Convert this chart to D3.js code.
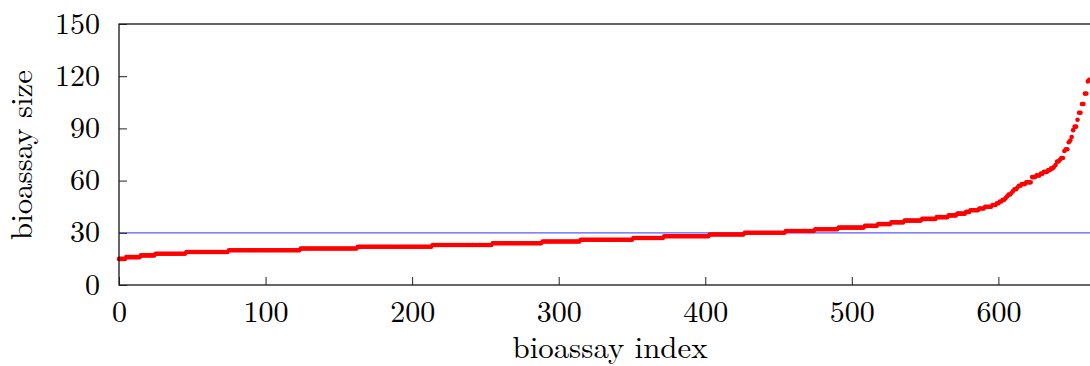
<!DOCTYPE html>
<html>
<head>
<meta charset="utf-8">
<script src="https://cdn.jsdelivr.net/npm/d3@7"></script>
<style>
  html, body { margin: 0; padding: 0; background: #fff; }
  svg { display: block; }
  text { font-family: "Latin Modern Roman", "CMU Serif", "Liberation Serif", "DejaVu Serif", serif; fill: #000; }
</style>
</head>
<body>
<svg id="chart" width="1090" height="366"></svg>
<script>
// ---- data ----
// sorted bioassay sizes: flat part as runs (value, number of bioassays)
const runValues  = [15, 16, 17, 18, 19, 20, 21, 22, 23, 24, 25, 26, 27, 28, 29, 30, 31, 32, 33, 34, 35, 36, 37, 38, 39, 40, 41, 42, 43, 44];
const runLengths = [ 5, 10, 10, 21, 29, 49, 39, 51, 41, 34, 26, 36, 21, 31, 24, 28, 20, 16, 18,  9,  9,  9, 12, 10,  8,  6,  6,  3,  6,  4];
// steep tail: one value per bioassay
const tailValues = [45, 45, 45, 45, 45, 46, 46, 46, 47, 47, 48, 48, 49, 49, 50, 51, 52, 52, 53, 54,
                    55, 55, 56, 57, 57, 58, 58, 58, 59, 59, 59, 59, 62, 62, 62, 63, 63, 63, 64, 64,
                    65, 65, 65, 66, 66, 67, 67, 68, 69, 71, 71, 72, 73, 73, 77, 78, 78, 82, 83, 85,
                    89, 91, 91, 95, 99, 99, 104, 104, 110, 110, 117, 118];
const threshold = [30];
const xTicks = [0, 100, 200, 300, 400, 500, 600];
const yTicks = [0, 30, 60, 90, 120, 150];
const xLabel = "bioassay index";
const yLabel = "bioassay size";

(function () {
  // ---- build points ----
  const sizes = [];
  runValues.forEach((v, k) => { for (let j = 0; j < runLengths[k]; j++) sizes.push(v); });
  tailValues.forEach(v => sizes.push(v));
  const points = sizes.map((v, i) => ({ i, v }));

  // ---- layout ----
  const svg = d3.select("#chart");
  const pL = 119, pR = 1101, pT = 24, pB = 285;
  const x = d3.scaleLinear().domain([0, 670]).range([pL, pR]);
  const y = d3.scaleLinear().domain([0, 150]).range([pB, pT]);

  // threshold line
  svg.selectAll("line.thr").data(threshold).enter().append("line")
    .attr("class", "thr")
    .attr("x1", x(0)).attr("x2", x(670))
    .attr("y1", d => y(d)).attr("y2", d => y(d))
    .attr("stroke", "#5a5aff").attr("stroke-width", 1.3);

  // points
  svg.append("g").selectAll("circle").data(points).enter().append("circle")
    .attr("cx", d => x(d.i))
    .attr("cy", d => y(d.v))
    .attr("r", 2.3)
    .attr("fill", "#ff0000");

  // frame
  svg.append("rect")
    .attr("x", pL).attr("y", pT)
    .attr("width", pR - pL).attr("height", pB - pT)
    .attr("fill", "none").attr("stroke", "#000").attr("stroke-width", 1.2);

  // axes
  const gx = svg.append("g").attr("transform", `translate(0,${pB})`)
    .call(d3.axisBottom(x).tickValues(xTicks).tickSize(-8).tickPadding(0).tickFormat(d3.format("d")));
  gx.select(".domain").remove();
  gx.selectAll(".tick line").attr("stroke", "#222").attr("stroke-width", 1);
  gx.selectAll(".tick text").attr("y", 37).attr("dy", null)
    .style("font-size", "30px");

  const gy = svg.append("g").attr("transform", `translate(${pL},0)`)
    .call(d3.axisLeft(y).tickValues(yTicks).tickSize(-8).tickPadding(19).tickFormat(d3.format("d")));
  gy.select(".domain").remove();
  gy.selectAll(".tick line").attr("stroke", "#222").attr("stroke-width", 1);
  gy.selectAll(".tick text").attr("dy", null).attr("y", 9)
    .style("font-size", "30px");

  // axis labels
  svg.append("text")
    .attr("x", 610).attr("y", 358)
    .attr("text-anchor", "middle")
    .attr("textLength", 195).attr("lengthAdjust", "spacingAndGlyphs")
    .style("font-size", "30px")
    .text(xLabel);

  svg.append("text")
    .attr("transform", "translate(32,155) rotate(-90)")
    .attr("text-anchor", "middle")
    .attr("textLength", 170).attr("lengthAdjust", "spacingAndGlyphs")
    .style("font-size", "30px")
    .text(yLabel);
})();
</script>
</body>
</html>
